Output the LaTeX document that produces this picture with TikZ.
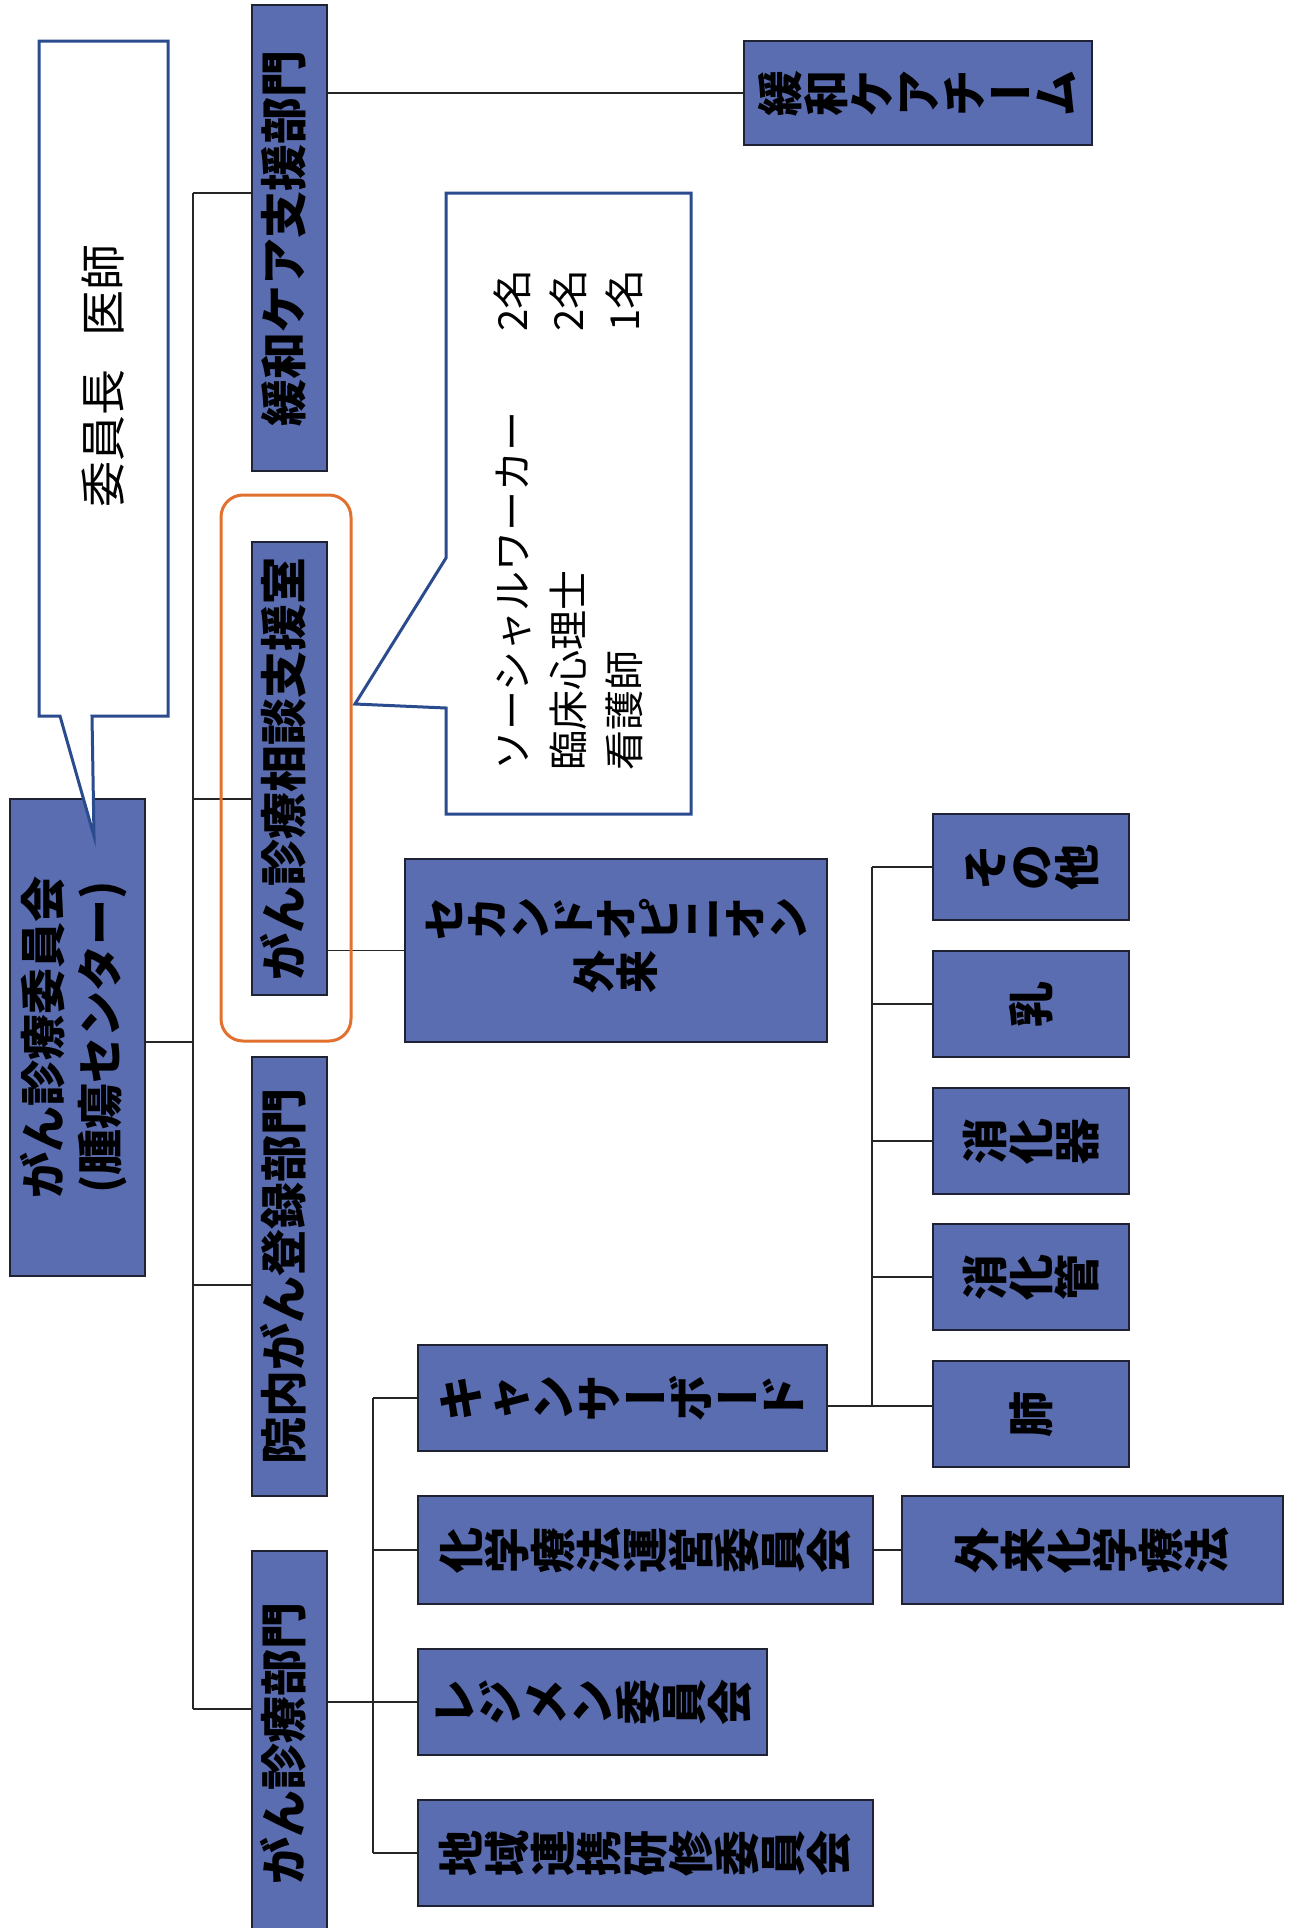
\documentclass[tikz,border=0pt]{standalone}
\usepackage{fontspec}
\setmainfont{Noto Sans CJK JP}
\definecolor{boxfill}{RGB}{91,109,177}
\definecolor{boxline}{RGB}{30,34,50}
\definecolor{callline}{RGB}{43,75,143}
\definecolor{orng}{RGB}{226,112,46}
\ExplSyntaxOn
\NewDocumentCommand\vt{m}
 {
  \tl_map_inline:nn {#1}
   {
    \str_if_eq:nnTF {##1} {ー}
     { \raisebox{0pt}[0.88em][0.12em]{##1} }
     { \rotatebox[origin=c]{90}{\raisebox{0pt}[0.88em][0.12em]{##1}} }
   }
 }
\ExplSyntaxOff
\newcommand\rt[1]{\rotatebox{90}{\begin{tabular}{@{}c@{}}#1\end{tabular}}}
\tikzset{
  box/.style={draw=boxline, fill=boxfill, line width=2pt, inner sep=0pt, align=center, text=black},
  colbox/.style={box, minimum width=75pt, font=\bfseries\fontsize{47}{56}\selectfont},
  hbox/.style={box, font=\bfseries\fontsize{46}{56}\selectfont},
  conn/.style={draw=black!85, line width=1.6pt},
  callout/.style={draw=callline, line width=3pt, fill=white, line join=miter},
}
\begin{document}
\begin{tikzpicture}[x=1pt,y=-1pt]
\useasboundingbox (0,0) rectangle (1297,1928);
% trunk coordinates
\coordinate (t1) at (193,193);
\coordinate (t2) at (193,799);
\coordinate (tm) at (193,1042);
\coordinate (t3) at (193,1285);
\coordinate (t4) at (193,1709);
\coordinate (v3a) at (373,1398);
\coordinate (v3b) at (373,1853);
\coordinate (v4a) at (872,867);
\coordinate (v4b) at (872,1406);

% boxes
\node[box, font=\bfseries\fontsize{46}{57}\selectfont, minimum width=135pt, minimum height=477pt] (main) at (77.5,1037.5)
  {\rt{がん診療委員会\\(腫瘍センター)}};
\node[colbox, minimum height=466pt] (kanwa) at (289.5,238) {\rt{緩和ケア支援部門}};
\node[colbox, minimum height=453pt] (soudan) at (289.5,768.5) {\rt{がん診療相談支援室}};
\node[colbox, minimum height=439pt] (innai) at (289.5,1276.5) {\rt{院内がん登録部門}};
\node[colbox, minimum height=384pt] (shinryo) at (289.5,1743) {\rt{がん診療部門}};

\node[hbox, minimum width=348pt, minimum height=104pt] (team) at (918,93) {\vt{緩和ケアチーム}};
\node[hbox, font=\bfseries\fontsize{43}{52}\selectfont, minimum width=422pt, minimum height=183pt] (second) at (616,950.5)
  {\begin{tabular}{@{}c@{}}\vt{セカンドオピニオン}\\\vt{外来}\end{tabular}};
\node[hbox, minimum width=409pt, minimum height=106pt] (cb) at (622.5,1398) {\vt{キャンサーボード}};
\node[hbox, minimum width=455pt, minimum height=108pt] (kagaku) at (645.5,1550) {\vt{化学療法運営委員会}};
\node[hbox, minimum width=349pt, minimum height=106pt] (regimen) at (592.5,1702) {\vt{レジメン委員会}};
\node[hbox, minimum width=455pt, minimum height=106pt] (chiiki) at (645.5,1853) {\vt{地域連携研修委員会}};
\node[hbox, minimum width=381pt, minimum height=108pt] (gairai) at (1092.5,1550) {\vt{外来化学療法}};

\node[hbox, minimum width=196pt, minimum height=106pt] (sonota) at (1031,867) {\vt{その他}};
\node[hbox, minimum width=196pt, minimum height=106pt] (nyu) at (1031,1004) {\vt{乳}};
\node[hbox, minimum width=196pt, minimum height=106pt] (shokaki) at (1031,1141) {\vt{消化器}};
\node[hbox, minimum width=196pt, minimum height=106pt] (shokakan) at (1031,1277) {\vt{消化管}};
\node[hbox, minimum width=196pt, minimum height=106pt] (hai) at (1031,1414) {\vt{肺}};

% connectors
\draw[conn] (t1) -- (t4);
\draw[conn] (t1) -- (kanwa.west |- t1);
\draw[conn] (t2) -- (soudan.west |- t2);
\draw[conn] (t3) -- (innai.west |- t3);
\draw[conn] (t4) -- (shinryo.west |- t4);
\draw[conn] (main.east |- tm) -- (tm);
\draw[conn] (kanwa.east |- team.west) -- (team.west);
\draw[conn] (soudan.east |- second.west) -- (second.west);
\draw[conn] (v3a) -- (v3b);
\draw[conn] (v3a) -- (cb.west);
\draw[conn] (kagaku.west -| v3a) -- (kagaku.west);
\draw[conn] (chiiki.west -| v3a) -- (chiiki.west);
\draw[conn] (shinryo.east |- regimen.west) -- (regimen.west);
\draw[conn] (kagaku.east) -- (gairai.west);
\draw[conn] (v4a) -- (v4b);
\draw[conn] (cb.east |- v4b) -- (hai.west |- v4b);
\draw[conn] (sonota.west -| v4a) -- (sonota.west);
\draw[conn] (nyu.west -| v4a) -- (nyu.west);
\draw[conn] (shokaki.west -| v4a) -- (shokaki.west);
\draw[conn] (shokakan.west -| v4a) -- (shokakan.west);

% orange highlight
\draw[orng, line width=3pt, rounded corners=22pt] (221,495) rectangle (351,1041);

% callout 1
\draw[callout] (39,41) -- (168,41) -- (168,716) -- (92,716) -- (94,836) -- (60,716) -- (39,716) -- cycle;
\node[font=\fontsize{46}{52}\selectfont, inner sep=0pt] (chair) at (103,376) {\rotatebox{90}{委員長\hspace{0.72em}医師}};

% callout 2
\draw[callout] (446,193) -- (691,193) -- (691,814) -- (446,814) -- (446,708) -- (355,704) -- (446,558) -- cycle;
\node[font=\fontsize{40}{56}\selectfont, inner sep=0pt] (staff) at (572,520)
  {\rotatebox{90}{\begin{tabular}{@{}l@{\hspace{80pt}}l@{}}ソーシャルワーカー & 2名\\臨床心理士 & 2名\\看護師 & 1名\end{tabular}}};
\end{tikzpicture}
\end{document}
